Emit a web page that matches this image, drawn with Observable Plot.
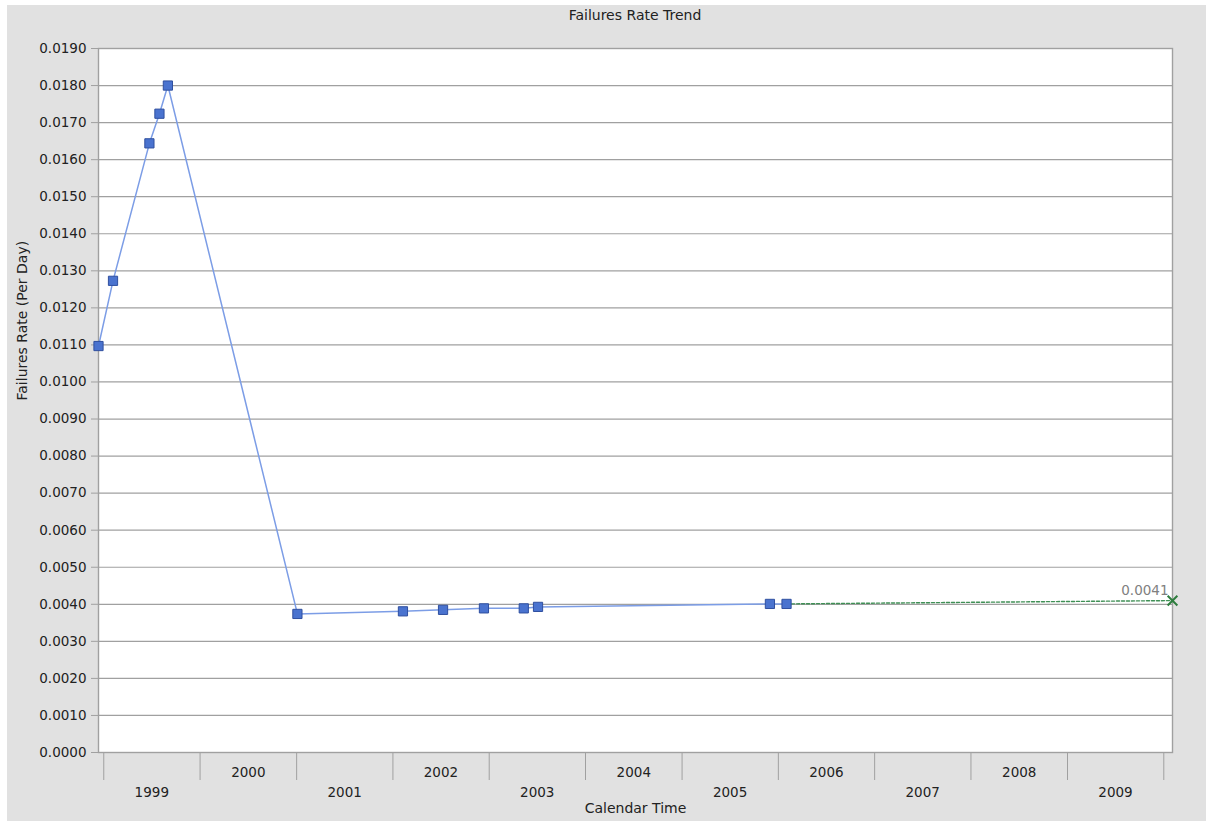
<!DOCTYPE html>
<html><head><meta charset="utf-8">
<script src="https://cdn.jsdelivr.net/npm/d3@7"></script>
<script src="https://cdn.jsdelivr.net/npm/@observablehq/plot@0.6"></script>
<style>
body{margin:0;background:#fff;}
#wrap{position:absolute;left:7px;top:5px;width:1199px;height:816px;background:#e1e1e1;font-family:"DejaVu Sans",sans-serif;color:#222;}
#title{height:20px;line-height:20px;font-size:14px;position:relative;}
#title span{position:absolute;left:628px;transform:translateX(-50%);white-space:nowrap;}
#chart svg{display:block;}
</style></head><body>
<div id="wrap"><div id="title"><span>Failures Rate Trend</span></div><div id="chart"></div></div>
<script>
// Observed failure-rate points
const dates = ["1998-12-12","1999-02-05","1999-06-23","1999-07-31","1999-09-01","2001-01-04",
  "2002-02-08","2002-07-10","2002-12-12","2003-05-12","2003-07-05","2005-11-30","2006-02-01"];
const rates = [0.01097,0.01273,0.01644,0.01724,0.01800,0.00374,
  0.00381,0.00385,0.00389,0.00389,0.00393,0.00401,0.00401];
// Forecast point
const forecastDate = "2010-02-03";
const forecastRate = 0.0041;
// Axis ticks / labels
const yTicks = [0.000,0.001,0.002,0.003,0.004,0.005,0.006,0.007,0.008,0.009,0.010,
  0.011,0.012,0.013,0.014,0.015,0.016,0.017,0.018,0.019];
const yearBounds = [1999,2000,2001,2002,2003,2004,2005,2006,2007,2008,2009,2010];
const yearLabels = [1999,2000,2001,2002,2003,2004,2005,2006,2007,2008,2009];

const data = dates.map((d,i) => ({date: new Date(d), rate: rates[i]}));
const fc = {date: new Date(forecastDate), rate: forecastRate};
const fcLine = [data[data.length-1], fc];
const upper = yearLabels.filter((y,i) => i % 2 === 1);
const lower = yearLabels.filter((y,i) => i % 2 === 0);
const mid = y => new Date(Date.UTC(y, 6, 2));
const gridColor = "#a0a0a0";

const chart = Plot.plot({
  width: 1199, height: 796,
  marginTop: 23, marginBottom: 69, marginLeft: 91, marginRight: 34,
  style: {fontFamily: "DejaVu Sans, sans-serif", fontSize: "13.5px", color: "#222", background: "transparent", overflow: "visible"},
  x: {type: "utc", domain: [data[0].date, fc.date]},
  y: {domain: [0, 0.019]},
  marks: [
    Plot.frame({fill: "white", stroke: "none"}),
    Plot.gridY(yTicks, {stroke: gridColor, strokeOpacity: 1, strokeWidth: 1.2}),
    Plot.frame({stroke: gridColor, strokeWidth: 1.4}),
    Plot.axisY(yTicks, {tickFormat: ".4f", tickSize: 7, tickPadding: 5, stroke: gridColor, label: null, fontSize: "13.5px"}),
    Plot.axisX(yearBounds.map(y => new Date(Date.UTC(y,0,1))), {tickSize: 28, tickFormat: () => "", stroke: gridColor, label: null}),
    Plot.text(upper, {x: mid, text: d => String(d), frameAnchor: "bottom", dy: 20, lineAnchor: "middle", fontSize: "13.5px"}),
    Plot.text(lower, {x: mid, text: d => String(d), frameAnchor: "bottom", dy: 40, lineAnchor: "middle", fontSize: "13.5px"}),
    Plot.text(["Calendar Time"], {text: d => d, frameAnchor: "bottom", dy: 56, lineAnchor: "middle", fontSize: "14px"}),
    Plot.text(["Failures Rate (Per Day)"], {text: d => d, frameAnchor: "left", dx: -76, rotate: -90, lineAnchor: "middle", fontSize: "14px"}),
    Plot.line(fcLine, {x: "date", y: "rate", stroke: "#3f8f55", strokeWidth: 1.4, strokeDasharray: "3,2"}),
    Plot.line(data, {x: "date", y: "rate", stroke: "#7c9de6", strokeWidth: 1.5}),
    Plot.dot(data, {x: "date", y: "rate", symbol: "square", r: 5.2, fill: "#4a73cf", stroke: "#2f4f9f", strokeWidth: 1}),
    Plot.dot([fc], {x: "date", y: "rate", symbol: "times", r: 4.5, stroke: "#2e7d3e", strokeWidth: 2}),
    Plot.text([fc], {x: "date", y: "rate", text: d => d3.format(".4f")(d.rate), textAnchor: "end", dx: -4, dy: -10, fill: "#808080", fontSize: "13.5px"})
  ]
});
document.getElementById("chart").appendChild(chart);
</script>
</body></html>
